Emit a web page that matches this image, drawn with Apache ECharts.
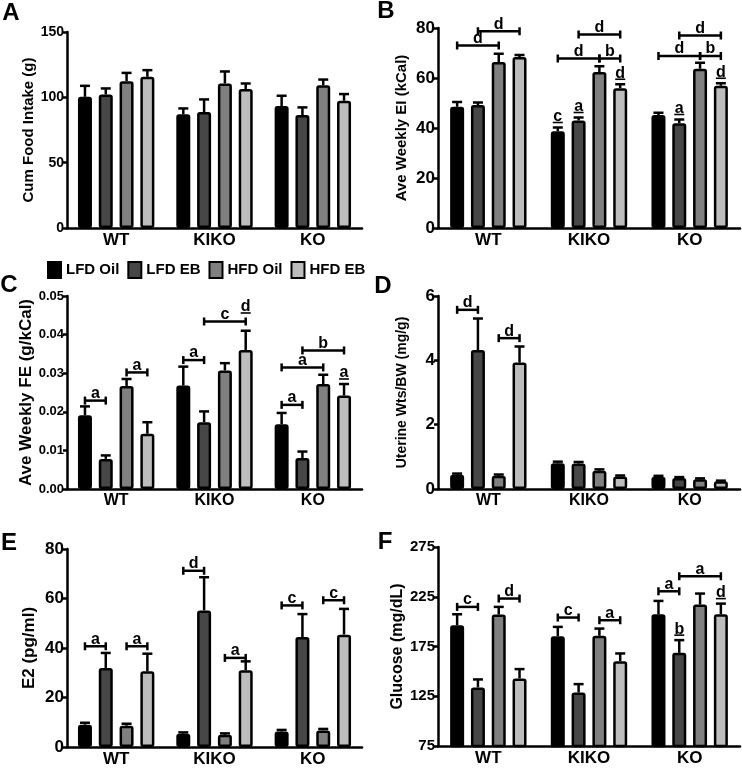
<!DOCTYPE html>
<html>
<head>
<meta charset="utf-8">
<script src="https://cdn.jsdelivr.net/npm/echarts@6/dist/echarts.min.js"></script>
<style>
html,body{margin:0;padding:0;background:#fff;}
#chart{width:742px;height:768px;}
</style>
</head>
<body>
<div id="chart"></div>
<script>
// ---------- DATA ----------
const CATEGORIES = ['WT', 'KIKO', 'KO'];
const GROUPS = ['LFD Oil', 'LFD EB', 'HFD Oil', 'HFD EB'];
const GROUP_COLORS = ['#000000', '#474747', '#808080', '#bdbdbd'];

// rows = groups (LFD Oil, LFD EB, HFD Oil, HFD EB), columns = WT, KIKO, KO
const A_MEAN = [[100.4, 87.0, 93.3], [102.2, 88.7, 86.4], [112.4, 110.6, 109.3], [115.7, 106.3, 97.4]];
const A_ERR  = [[8.4, 4.5, 7.9], [4.6, 9.7, 5.9], [6.3, 9.2, 4.3], [5.1, 4.3, 5.1]];
const A_BRACKETS = [];
const A_MARKS = [];

const B_MEAN = [[48.5, 38.7, 45.2], [49.2, 43.0, 41.9], [66.4, 62.4, 63.7], [68.4, 55.9, 56.9]];
const B_ERR  = [[1.9, 1.5, 0.9], [1.0, 1.2, 1.5], [3.3, 2.3, 2.4], [0.8, 1.6, 1.0]];
// [category, fromGroup, toGroup, y, letter]
const B_BRACKETS = [[0, 0, 2, 73.0, 'd'], [0, 1, 3, 78.7, 'd'], [1, 1, 3, 77.4, 'd'], [1, 0, 2, 67.8, 'd'], [1, 2, 3, 67.8, 'b'],
                    [2, 1, 3, 77.0, 'd'], [2, 0, 2, 68.8, 'd'], [2, 2, 3, 68.8, 'b']];
// [category, group, letter, (optional underline y)] underlined letters above bars
const B_MARKS = [[1, 0, 'c'], [1, 1, 'a'], [1, 3, 'd'], [2, 1, 'a'], [2, 3, 'd']];

const C_MEAN = [[0.0191, 0.0268, 0.0168], [0.0078, 0.0173, 0.0080], [0.0267, 0.0307, 0.0272], [0.0143, 0.0360, 0.0242]];
const C_ERR  = [[0.0023, 0.0049, 0.0029], [0.0009, 0.0028, 0.0017], [0.0018, 0.0019, 0.0024], [0.0030, 0.0050, 0.0030]];
const C_BRACKETS = [[0, 0, 1, 0.0229, 'a'], [0, 2, 3, 0.0302, 'a'], [1, 0, 1, 0.0334, 'a'], [1, 1, 3, 0.0434, 'c'],
                    [2, 0, 1, 0.0218, 'a'], [2, 0, 2, 0.0315, 'a'], [2, 1, 3, 0.0359, 'b']];
const C_MARKS = [[1, 3, 'd', 0.0456], [2, 3, 'a']];

const D_MEAN = [[0.44, 0.80, 0.38], [4.32, 0.79, 0.34], [0.41, 0.57, 0.30], [3.93, 0.39, 0.24]];
const D_ERR  = [[0.04, 0.05, 0.03], [0.98, 0.05, 0.03], [0.04, 0.04, 0.03], [0.50, 0.03, 0.02]];
const D_BRACKETS = [[0, 0, 1, 5.57, 'd'], [0, 2, 3, 4.69, 'd']];
const D_MARKS = [];

const E_MEAN = [[9.0, 5.4, 6.3], [31.9, 55.2, 44.4], [8.6, 5.0, 6.7], [30.6, 31.0, 45.4]];
const E_ERR  = [[0.8, 0.5, 0.6], [6.1, 13.4, 9.3], [0.8, 0.5, 0.6], [7.1, 3.6, 10.4]];
const E_BRACKETS = [[0, 0, 1, 40.7, 'a'], [0, 2, 3, 40.7, 'a'], [1, 0, 1, 71.2, 'd'], [1, 2, 3, 36.0, 'a'],
                    [2, 0, 1, 57.2, 'c'], [2, 2, 3, 59.3, 'c']];
const E_MARKS = [];

const F_MEAN = [[196.4, 185.4, 207.4], [133.9, 128.8, 168.6], [207.1, 185.7, 217.1], [142.9, 160.3, 207.4]];
const F_ERR  = [[11.0, 9.3, 13.4], [8.0, 8.4, 12.8], [7.7, 7.3, 11.1], [9.4, 7.7, 10.7]];
const F_BRACKETS = [[0, 0, 1, 214.8, 'c'], [0, 2, 3, 223.2, 'd'], [1, 0, 1, 204.1, 'c'], [1, 2, 3, 201.4, 'a'],
                    [2, 0, 1, 230.5, 'a'], [2, 1, 3, 245.6, 'a']];
const F_MARKS = [[2, 1, 'b'], [2, 3, 'd']];

const Y_TITLES = ['Cum Food Intake (g)', 'Ave Weekly EI (kCal)', 'Ave Weekly FE (g/kCal)',
                  'Uterine Wts/BW (mg/g)', 'E2 (pg/ml)', 'Glucose (mg/dL)'];
const Y_MIN = [0, 0, 0, 0, 0, 75];
const Y_MAX = [150, 80, 0.05, 6, 80, 275];
const Y_STEP = [50, 20, 0.01, 2, 20, 50];
const PANEL_LETTERS = ['A', 'B', 'C', 'D', 'E', 'F'];

// ---------- LAYOUT / STYLE ----------
const FONT = 'Liberation Sans, Arial, Helvetica, sans-serif';
const BAR_W = 14;
const STEP = 20.8;
const GRIDS = [
  {left: 67, top: 32, width: 295, height: 196},
  {left: 438, top: 28, width: 302, height: 200},
  {left: 67, top: 296, width: 295, height: 193},
  {left: 438, top: 296, width: 302, height: 193},
  {left: 67, top: 549, width: 295, height: 198},
  {left: 438, top: 547, width: 302, height: 199}
];
const TITLE_SIZE = [15, 15, 17, 14, 17, 16];
const TICK_SIZE = [14, 17, 13, 17, 17, 15];
const CAT_SIZE = [17, 17, 16, 16, 17, 17];
const LETTER_POS = [[11, 13], [386, 11], [9, 285], [383, 286], [9, 543], [385, 542]];

const PANELS = [
  {mean: A_MEAN, err: A_ERR, br: A_BRACKETS, mk: A_MARKS},
  {mean: B_MEAN, err: B_ERR, br: B_BRACKETS, mk: B_MARKS},
  {mean: C_MEAN, err: C_ERR, br: C_BRACKETS, mk: C_MARKS},
  {mean: D_MEAN, err: D_ERR, br: D_BRACKETS, mk: D_MARKS},
  {mean: E_MEAN, err: E_ERR, br: E_BRACKETS, mk: E_MARKS},
  {mean: F_MEAN, err: F_ERR, br: F_BRACKETS, mk: F_MARKS}
];

const LW = 2.5;
const lineStyle = {stroke: '#000', lineWidth: LW};

function errRender(params, api) {
  const cat = api.value(0), v = api.value(1), e = api.value(2), j = api.value(3);
  const p0 = api.coord([cat, v]);
  const p1 = api.coord([cat, v + e]);
  const x = p0[0] + (j - 1.5) * STEP;
  return {type: 'group', children: [
    {type: 'line', shape: {x1: x, y1: p0[1], x2: x, y2: p1[1]}, style: lineStyle},
    {type: 'line', shape: {x1: x - 5, y1: p1[1], x2: x + 5, y2: p1[1]}, style: lineStyle}
  ]};
}

function makeBracketRender(list) {
  return function (params, api) {
    const b = list[params.dataIndex];
    const p = api.coord([b[0], b[3]]);
    const x1 = p[0] + (b[1] - 1.5) * STEP;
    const x2 = p[0] + (b[2] - 1.5) * STEP;
    const y = p[1];
    return {type: 'group', children: [
      {type: 'line', shape: {x1: x1, y1: y, x2: x2, y2: y}, style: lineStyle},
      {type: 'line', shape: {x1: x1, y1: y - 4, x2: x1, y2: y + 4}, style: lineStyle},
      {type: 'line', shape: {x1: x2, y1: y - 4, x2: x2, y2: y + 4}, style: lineStyle},
      {type: 'text', x: (x1 + x2) / 2, y: y + 1, style: {text: b[4], font: 'bold 16px ' + FONT, fill: '#000', textAlign: 'center', textVerticalAlign: 'bottom'}}
    ]};
  };
}

function makeMarkRender(list) {
  return function (params, api) {
    const m = list[params.dataIndex];
    const p = api.coord([m[0], api.value(1)]);
    const x = p[0] + (m[1] - 1.5) * STEP;
    const yl = m.length > 3 ? p[1] : p[1] - 5;
    return {type: 'group', children: [
      {type: 'line', shape: {x1: x - 5, y1: yl, x2: x + 5, y2: yl}, style: {stroke: '#000', lineWidth: 1.6}},
      {type: 'text', x: x, y: yl + 2, style: {text: m[2], font: 'bold 16px ' + FONT, fill: '#000', textAlign: 'center', textVerticalAlign: 'bottom'}}
    ]};
  };
}

const grid = [], xAxis = [], yAxis = [], series = [], graphic = [];
PANELS.forEach(function (P, i) {
  grid.push(Object.assign({containLabel: false}, GRIDS[i]));
  xAxis.push({
    type: 'category', gridIndex: i, data: CATEGORIES,
    axisLine: {lineStyle: {color: '#000', width: LW}},
    axisTick: {alignWithLabel: true, length: 4, lineStyle: {color: '#000', width: LW}},
    axisLabel: {color: '#000', fontFamily: FONT, fontWeight: 'bold', fontSize: CAT_SIZE[i], margin: 4}
  });
  yAxis.push({
    type: 'value', gridIndex: i, min: Y_MIN[i], max: Y_MAX[i], interval: Y_STEP[i],
    name: Y_TITLES[i], nameLocation: 'middle', nameGap: 29,
    nameTextStyle: {color: '#000', fontFamily: FONT, fontWeight: 'bold', fontSize: TITLE_SIZE[i]},
    splitLine: {show: false},
    axisLine: {show: true, lineStyle: {color: '#000', width: LW}},
    axisTick: {show: true, length: 4, lineStyle: {color: '#000', width: LW}},
    axisLabel: {color: '#000', fontFamily: FONT, fontWeight: 'bold', fontSize: TICK_SIZE[i], margin: 3,
      formatter: i === 2 ? function (v) { return v.toFixed(2); } : null}
  });
  for (let j = 0; j < 4; j++) {
    series.push({
      type: 'bar', name: GROUPS[j], xAxisIndex: i, yAxisIndex: i, data: P.mean[j],
      barWidth: BAR_W, barGap: ((STEP - BAR_W) / BAR_W * 100) + '%',
      itemStyle: {color: GROUP_COLORS[j], borderColor: '#000', borderWidth: LW, borderRadius: 1.5},
      emphasis: {disabled: true}, z: 2, animation: false
    });
  }
  const errData = [];
  for (let j = 0; j < 4; j++) {
    for (let c = 0; c < CATEGORIES.length; c++) errData.push([c, P.mean[j][c], P.err[j][c], j]);
  }
  series.push({type: 'custom', xAxisIndex: i, yAxisIndex: i, renderItem: errRender,
    data: errData, encode: {x: 0, y: 1}, z: 3, silent: true, animation: false});
  if (P.br.length) {
    series.push({type: 'custom', xAxisIndex: i, yAxisIndex: i, renderItem: makeBracketRender(P.br),
      data: P.br.map(function (b) { return [b[0], b[3]]; }), encode: {x: 0, y: 1}, z: 4, silent: true, animation: false});
  }
  if (P.mk.length) {
    series.push({type: 'custom', xAxisIndex: i, yAxisIndex: i, renderItem: makeMarkRender(P.mk),
      data: P.mk.map(function (m) {
        return [m[0], m.length > 3 ? m[3] : P.mean[m[1]][m[0]] + P.err[m[1]][m[0]]];
      }),
      encode: {x: 0, y: 1}, z: 4, silent: true, animation: false});
  }
  graphic.push({type: 'text', x: LETTER_POS[i][0], y: LETTER_POS[i][1],
    style: {text: PANEL_LETTERS[i], font: 'bold 24px ' + FONT, fill: '#000', textAlign: 'center', textVerticalAlign: 'middle'}});
});

const chart = echarts.init(document.getElementById('chart'), null, {renderer: 'canvas'});
chart.setOption({
  backgroundColor: '#fff',
  animation: false,
  grid: grid, xAxis: xAxis, yAxis: yAxis, series: series, graphic: graphic,
  legend: {
    data: GROUPS, left: 42, top: 256, icon: 'rect', itemWidth: 13, itemHeight: 16, itemGap: 8,
    itemStyle: {borderColor: '#000', borderWidth: 2},
    textStyle: {color: '#000', fontFamily: FONT, fontWeight: 'bold', fontSize: 15},
    selectedMode: false
  }
});
</script>
</body>
</html>
